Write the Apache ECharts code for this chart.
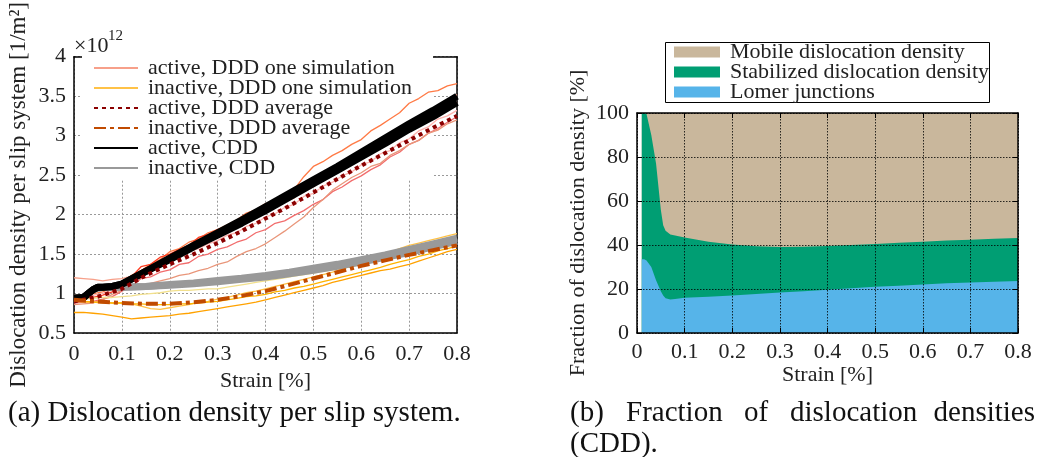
<!DOCTYPE html>
<html>
<head>
<meta charset="utf-8">
<script src="https://cdn.jsdelivr.net/npm/echarts@6/dist/echarts.min.js"></script>
<style>
html,body{margin:0;padding:0;background:#fff;}
#c{width:1045px;height:457px;}
</style>
</head>
<body>
<div id="c"></div>
<script>
// ---------- Left chart data (values in 1e12 1/m^2) ----------
const strainSim = [0,0.02,0.04,0.06,0.08,0.1,0.12,0.14,0.16,0.18,0.2,0.22,0.24,0.26,0.28,0.3,0.32,0.34,0.36,0.38,0.4,0.42,0.44,0.46,0.48,0.5,0.52,0.54,0.56,0.58,0.6,0.62,0.64,0.66,0.68,0.7,0.72,0.74,0.76,0.78,0.8];
const activeSim1 = [1.20,1.19,1.18,1.16,1.18,1.19,1.22,1.25,1.31,1.37,1.45,1.49,1.57,1.61,1.67,1.71,1.79,1.84,1.91,1.96,2.04,2.09,2.17,2.21,2.31,2.35,2.44,2.49,2.58,2.63,2.73,2.79,2.87,2.93,3.03,3.08,3.17,3.23,3.33,3.41,3.52];
const activeSim2 = [0.98,0.97,1.00,1.02,1.07,1.12,1.23,1.29,1.37,1.43,1.53,1.57,1.65,1.69,1.77,1.81,1.87,1.93,2.02,2.06,2.14,2.17,2.25,2.32,2.48,2.61,2.67,2.75,2.81,2.89,2.95,3.06,3.13,3.21,3.29,3.41,3.47,3.55,3.57,3.63,3.66];
const activeSim3 = [0.92,0.93,0.95,0.98,1.02,1.11,1.21,1.34,1.37,1.46,1.50,1.56,1.61,1.71,1.75,1.81,1.85,1.93,1.97,2.05,2.09,2.17,2.24,2.34,2.36,2.43,2.47,2.56,2.61,2.69,2.73,2.81,2.86,2.95,3.00,3.09,3.13,3.22,3.27,3.36,3.42];
const activeSim4 = [0.88,0.89,0.90,0.93,0.96,1.03,1.09,1.19,1.21,1.27,1.30,1.37,1.39,1.47,1.50,1.56,1.59,1.65,1.69,1.77,1.81,1.89,1.92,1.99,2.05,2.13,2.19,2.29,2.35,2.43,2.49,2.57,2.63,2.73,2.79,2.89,2.94,3.03,3.09,3.17,3.24];
const activeSim5 = [0.86,0.87,0.88,0.92,0.99,1.04,1.08,1.10,1.13,1.16,1.19,1.23,1.25,1.29,1.32,1.37,1.40,1.47,1.53,1.57,1.63,1.71,1.79,1.88,1.97,2.09,2.19,2.31,2.39,2.47,2.53,2.61,2.65,2.75,2.81,2.89,2.94,3.03,3.07,3.15,3.20];
const activeSim6 = [0.95,0.96,0.98,1.00,1.05,1.10,1.19,1.26,1.33,1.37,1.43,1.47,1.53,1.57,1.63,1.67,1.74,1.77,1.85,1.89,1.97,2.01,2.09,2.13,2.23,2.27,2.36,2.41,2.49,2.54,2.63,2.67,2.77,2.81,2.91,2.96,3.06,3.11,3.21,3.25,3.32];
const inactiveSim1 = [0.90,0.89,0.89,0.88,0.88,0.88,0.87,0.84,0.81,0.80,0.82,0.84,0.86,0.89,0.90,0.93,0.95,0.98,1.01,1.03,1.06,1.09,1.12,1.15,1.18,1.21,1.24,1.27,1.31,1.35,1.39,1.43,1.47,1.52,1.57,1.61,1.64,1.67,1.70,1.73,1.76];
const inactiveSim2 = [0.93,0.93,0.94,0.95,0.95,0.96,0.97,0.99,1.00,1.01,1.03,1.04,1.04,1.05,1.06,1.06,1.08,1.10,1.12,1.14,1.16,1.18,1.20,1.22,1.24,1.26,1.28,1.30,1.32,1.34,1.37,1.40,1.43,1.46,1.49,1.52,1.55,1.58,1.61,1.64,1.67];
const inactiveSim3 = [0.76,0.76,0.75,0.74,0.72,0.70,0.68,0.69,0.70,0.71,0.72,0.74,0.75,0.77,0.79,0.81,0.83,0.85,0.87,0.89,0.92,0.95,0.98,1.01,1.04,1.07,1.10,1.14,1.17,1.20,1.23,1.26,1.29,1.31,1.34,1.37,1.41,1.45,1.49,1.53,1.56];
const inactiveSim4 = [0.90,0.90,0.89,0.89,0.88,0.88,0.87,0.87,0.86,0.86,0.86,0.87,0.87,0.88,0.89,0.90,0.92,0.94,0.96,0.97,0.99,1.02,1.04,1.07,1.09,1.12,1.15,1.18,1.21,1.24,1.27,1.30,1.33,1.37,1.40,1.43,1.47,1.50,1.54,1.57,1.60];

const strainAvg = [0,0.05,0.1,0.15,0.2,0.25,0.3,0.35,0.4,0.45,0.5,0.55,0.6,0.65,0.7,0.75,0.8];
const activeAvg = [0.90,0.96,1.06,1.23,1.37,1.50,1.64,1.79,1.95,2.11,2.28,2.45,2.62,2.78,2.94,3.10,3.25];
const inactiveAvg = [0.92,0.90,0.88,0.87,0.87,0.89,0.92,0.97,1.03,1.11,1.19,1.27,1.35,1.42,1.49,1.55,1.61];

const strainCdd = [0,0.02,0.03,0.04,0.05,0.06,0.08,0.1,0.15,0.2,0.25,0.3,0.35,0.4,0.45,0.5,0.55,0.6,0.65,0.7,0.75,0.8];
const activeCddLow = [0.94,0.95,1.00,1.05,1.08,1.08,1.09,1.12,1.28,1.43,1.59,1.74,1.89,2.05,2.22,2.39,2.56,2.73,2.90,3.08,3.24,3.42];
const activeCddHigh = [0.94,0.95,1.00,1.05,1.08,1.08,1.09,1.12,1.28,1.45,1.61,1.77,1.93,2.10,2.27,2.44,2.61,2.79,2.97,3.15,3.32,3.50];
const inactiveCddLow = [0.94,0.95,1.00,1.05,1.07,1.075,1.08,1.08,1.09,1.105,1.125,1.15,1.18,1.21,1.25,1.295,1.345,1.40,1.46,1.52,1.59,1.66];
const inactiveCddHigh = [0.94,0.95,1.00,1.05,1.07,1.075,1.08,1.08,1.09,1.115,1.135,1.165,1.195,1.23,1.27,1.32,1.37,1.43,1.49,1.56,1.63,1.70];

// ---------- Right chart data (%) ----------
const strainFrac = [0.01,0.015,0.02,0.03,0.04,0.05,0.055,0.06,0.07,0.08,0.1,0.15,0.2,0.25,0.3,0.35,0.4,0.45,0.5,0.55,0.6,0.65,0.7,0.75,0.8];
const lomer = [33.5,33.5,33,30,24,19,17,15.8,15.2,15.5,16,16.5,17,17.7,18.4,19,19.7,20.3,21,21.5,22,22.6,23,23.3,23.6];
const stabilized = [66.5,66.5,66.5,60,53,37,32,30.7,29.6,28.8,27.4,25,23.2,21.7,20.7,20.2,19.8,19.7,19.5,19.5,19.5,19.4,19.4,19.5,19.6];
const mobile = [0,0,0.5,10,23,44,51,53.5,55.2,55.7,56.6,58.5,59.8,60.6,60.9,60.8,60.5,60,59.5,59,58.5,58,57.6,57.2,56.8];

// ---------- Text ----------
const leftLegend = ['active, DDD one simulation','inactive, DDD one simulation','active, DDD average','inactive, DDD average','active, CDD','inactive, CDD'];
const rightLegend = ['Mobile dislocation density','Stabilized dislocation density','Lomer junctions'];
const captionA = '(a) Dislocation density per slip system.';
const captionBWords = ['(b)','Fraction','of','dislocation','densities'];
const captionB2 = '(CDD).';

const FF = '"Liberation Serif", "DejaVu Serif", serif';
const TXT = '#222';
const zip = (xs, ys) => xs.map((x, i) => [x, ys[i]]);

// cumulative tops for the stacked fractions (stack order: Lomer, Stabilized, Mobile)
const stabTop = lomer.map((v, i) => v + stabilized[i]);
const mobileTop = stabTop.map((v, i) => v + mobile[i]);

const chart = echarts.init(document.getElementById('c'), null, {renderer: 'canvas'});

function simLine(name, xs, ys, color) {
  return {type: 'line', name, xAxisIndex: 0, yAxisIndex: 0, data: zip(xs, ys), symbol: 'none', showSymbol: false,
    lineStyle: {color, width: 1.3}, itemStyle: {color}, animation: false, silent: true};
}
function thickLine(name, xs, ys, color, width, type) {
  return {type: 'line', name, xAxisIndex: 0, yAxisIndex: 0, data: zip(xs, ys), symbol: 'none', showSymbol: false,
    lineStyle: {color, width, type: type || 'solid', cap: 'butt'}, itemStyle: {color}, animation: false, silent: true};
}
function area(name, ys, color) {
  return {type: 'line', name, xAxisIndex: 2, yAxisIndex: 2, data: zip(strainFrac, ys),
    symbol: 'none', showSymbol: false, lineStyle: {width: 0, color}, itemStyle: {color}, areaStyle: {color, opacity: 1},
    animation: false, silent: true};
}

const axisLbl = () => ({fontFamily: FF, fontSize: 22, color: TXT});
const fmt1 = v => v === 0 ? '0' : (Math.round(v * 10) / 10).toString();
const capStyle = () => ({fontFamily: FF, fontSize: 29, fontWeight: 'normal', color: '#111'});

const option = {
  backgroundColor: '#fff',
  animation: false,
  textStyle: {fontFamily: FF},
  title: [
    {text: '×10', left: 69, top: 30, textStyle: {fontFamily: FF, fontSize: 22, fontWeight: 'normal', color: TXT}},
    {text: '12', left: 103, top: 24, textStyle: {fontFamily: FF, fontSize: 15, fontWeight: 'normal', color: TXT}},
    {text: captionA, left: 3, top: 394, textStyle: capStyle()},
    {text: captionBWords[0], left: 565, top: 394, textStyle: capStyle()},
    {text: captionBWords[1], left: 621, top: 394, textStyle: capStyle()},
    {text: captionBWords[2], left: 739, top: 394, textStyle: capStyle()},
    {text: captionBWords[3], left: 785, top: 394, textStyle: capStyle()},
    {text: captionBWords[4], right: 5, top: 394, textStyle: capStyle()},
    {text: captionB2, left: 565, top: 425, textStyle: capStyle()}
  ],
  graphic: {elements: [
    {type: 'rect', left: 82, top: 55, z: 1, shape: {width: 351, height: 125}, style: {fill: '#fff'}},
    {type: 'rect', left: 665, top: 42, z: 1, shape: {width: 324, height: 60}, style: {fill: '#fff', stroke: '#000', lineWidth: 1}}
  ]},
  legend: [
    {data: leftLegend, orient: 'vertical', left: 93, top: 57, itemWidth: 44, itemHeight: 14, itemGap: -2,
     padding: 0, selectedMode: false, z: 4, itemStyle: {opacity: 0},
     textStyle: {fontFamily: FF, fontSize: 22, color: TXT, padding: [0, 0, 0, 5]}},
    {data: rightLegend, orient: 'vertical', left: 674, top: 41, itemWidth: 46, itemHeight: 11, itemGap: -2,
     padding: 0, selectedMode: false, icon: 'rect', z: 4,
     textStyle: {fontFamily: FF, fontSize: 22, color: TXT, padding: [0, 0, 0, 5]}}
  ],
  grid: [
    {left: 74, top: 54, width: 383, height: 279, containLabel: false},
    {left: 637, top: 113, width: 381, height: 220, containLabel: false}
  ],
  xAxis: [
    {gridIndex: 0, type: 'value', min: 0, max: 0.8, interval: 0.1,
     axisLine: {lineStyle: {color: '#000', width: 1.5}}, axisTick: {show: false},
     axisLabel: Object.assign({margin: 10, formatter: fmt1}, axisLbl()),
     splitLine: {show: true, lineStyle: {color: '#999', type: [2, 2], width: 1}},
     name: 'Strain [%]', nameLocation: 'middle', nameGap: 33, nameTextStyle: axisLbl()},
    {gridIndex: 0, type: 'value', position: 'top', min: 0, max: 0.8, interval: 0.1,
     axisLine: {onZero: false, lineStyle: {color: '#000', width: 1.5}}, axisTick: {show: false},
     axisLabel: {show: false}, splitLine: {show: false}},
    {gridIndex: 1, type: 'value', min: 0, max: 0.8, interval: 0.1, z: 10,
     axisLine: {lineStyle: {color: '#000', width: 1.5}}, axisTick: {inside: true, length: 5, lineStyle: {color: '#000'}},
     axisLabel: Object.assign({margin: 8, formatter: fmt1}, axisLbl()),
     splitLine: {show: true, lineStyle: {color: '#000', type: [1.5, 1.5], width: 1, opacity: 0.8}},
     name: 'Strain [%]', nameLocation: 'middle', nameGap: 28, nameTextStyle: axisLbl()},
    {gridIndex: 1, type: 'value', position: 'top', min: 0, max: 0.8, interval: 0.1, z: 10,
     axisLine: {onZero: false, lineStyle: {color: '#000', width: 1.5}}, axisTick: {inside: true, length: 5, lineStyle: {color: '#000'}},
     axisLabel: {show: false}, splitLine: {show: false}}
  ],
  yAxis: [
    {gridIndex: 0, type: 'value', min: 0.5, max: 4, interval: 0.5,
     axisLine: {show: true, lineStyle: {color: '#000', width: 1.5}}, axisTick: {show: false},
     axisLabel: Object.assign({margin: 8, formatter: fmt1}, axisLbl()),
     splitLine: {show: true, lineStyle: {color: '#999', type: [2, 2], width: 1}},
     name: 'Dislocation density per slip system [1/m²]', nameLocation: 'middle', nameGap: 44,
     nameTextStyle: {fontFamily: FF, fontSize: 23, color: TXT}},
    {gridIndex: 0, type: 'value', position: 'right', min: 0.5, max: 4, interval: 0.5,
     axisLine: {show: true, onZero: false, lineStyle: {color: '#000', width: 1.5}}, axisTick: {show: false},
     axisLabel: {show: false}, splitLine: {show: false}},
    {gridIndex: 1, type: 'value', min: 0, max: 100, interval: 20, z: 10,
     axisLine: {show: true, lineStyle: {color: '#000', width: 1.5}}, axisTick: {show: true, inside: true, length: 5, lineStyle: {color: '#000'}},
     axisLabel: Object.assign({margin: 8}, axisLbl()),
     splitLine: {show: true, lineStyle: {color: '#000', type: [1.5, 1.5], width: 1, opacity: 0.8}},
     name: 'Fraction of dislocation density [%]', nameLocation: 'middle', nameGap: 48, nameTextStyle: axisLbl()},
    {gridIndex: 1, type: 'value', position: 'right', min: 0, max: 100, interval: 20, z: 10,
     axisLine: {show: true, onZero: false, lineStyle: {color: '#000', width: 1.5}}, axisTick: {show: true, inside: true, length: 5, lineStyle: {color: '#000'}},
     axisLabel: {show: false}, splitLine: {show: false}}
  ],
  series: [
    simLine(leftLegend[0], strainSim, activeSim1, '#F7A08A'),
    simLine(leftLegend[0], strainSim, activeSim2, '#FF7A45'),
    simLine(leftLegend[0], strainSim, activeSim3, '#FF3B1F'),
    simLine(leftLegend[0], strainSim, activeSim4, '#F26D6D'),
    simLine(leftLegend[0], strainSim, activeSim5, '#E9967A'),
    simLine(leftLegend[0], strainSim, activeSim6, '#FFB3AE'),
    simLine(leftLegend[1], strainSim, inactiveSim1, '#FFC247'),
    simLine(leftLegend[1], strainSim, inactiveSim2, '#F2E08C'),
    simLine(leftLegend[1], strainSim, inactiveSim3, '#FFA200'),
    simLine(leftLegend[1], strainSim, inactiveSim4, '#FFB300'),
    thickLine(leftLegend[5], strainCdd, inactiveCddLow, '#999999', 7),
    thickLine(leftLegend[5], strainCdd, inactiveCddHigh, '#999999', 7),
    thickLine(leftLegend[4], strainCdd, activeCddLow, '#000000', 7),
    thickLine(leftLegend[4], strainCdd, activeCddHigh, '#000000', 7),
    thickLine(leftLegend[2], strainAvg, activeAvg, '#8B0000', 4, [4, 4]),
    thickLine(leftLegend[3], strainAvg, inactiveAvg, '#C04A00', 4, [12, 4, 4, 4]),
    area(rightLegend[0], mobileTop, '#C9B79C'),
    area(rightLegend[1], stabTop, '#009E73'),
    area(rightLegend[2], lomer, '#56B4E9')
  ]
};
chart.setOption(option);
</script>
</body>
</html>
